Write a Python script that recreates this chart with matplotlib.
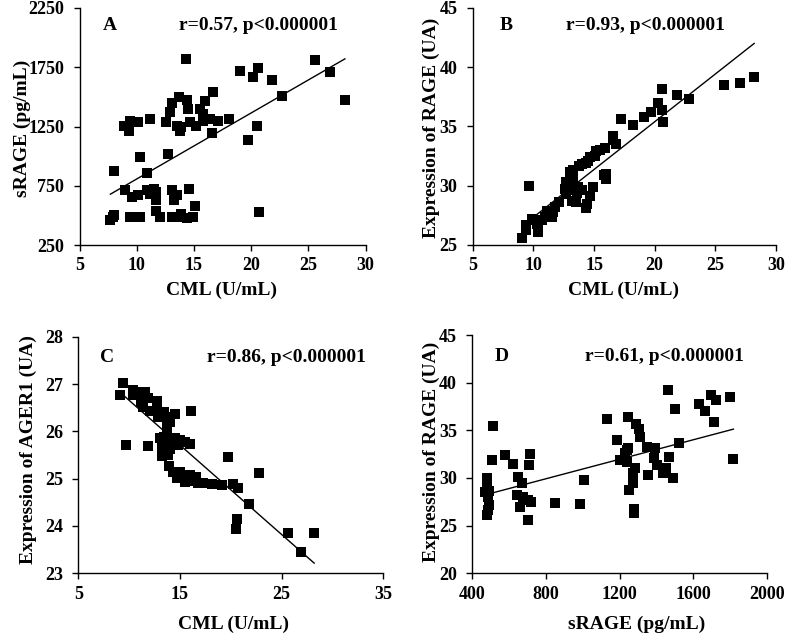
import numpy as np
import matplotlib.pyplot as plt

plt.rcParams['font.family'] = ['Liberation Serif', 'DejaVu Serif']
plt.rcParams['font.weight'] = 'bold'

# Panel A: CML vs sRAGE
a_cml = [14.3, 25.6, 26.9, 28.2, 19.0, 20.6, 20.2, 21.8, 22.7, 16.7, 13.7, 14.4, 13.1, 16.0,
         12.9, 14.5, 15.5, 15.8, 11.2, 10.1, 9.4, 8.9, 12.6, 13.5, 13.9, 14.7, 15.2, 15.8, 16.4,
         17.1, 18.1, 20.5, 9.3, 13.8, 19.7, 16.6, 10.3, 12.7, 8.0, 10.9,
         9.0, 9.6, 10.1, 10.9, 11.2, 11.5, 11.7, 11.7, 13.1, 13.5, 13.3, 14.6, 15.1,
         7.7, 7.9, 8.0, 9.4, 10.3, 11.7, 12.0, 13.1, 13.5, 13.9, 14.4, 14.9, 20.7]
a_srage = [1820, 1810, 1706, 1474, 1720, 1740, 1670, 1642, 1510, 1544, 1502, 1477, 1452, 1468,
           1370, 1399, 1399, 1357, 1315, 1286, 1295, 1258, 1286, 1258, 1244, 1286, 1258, 1300, 1315,
           1300, 1315, 1258, 1216, 1216, 1138, 1194, 992, 1015, 874, 858,
           712, 656, 670, 712, 684, 726, 698, 628, 718, 670, 628, 720, 580,
           460, 488, 502, 488, 488, 538, 488, 490, 488, 510, 480, 488, 525]

# Panel B: CML vs RAGE expression
b_cml = [25.7, 27.0, 28.2, 20.6, 21.8, 22.8, 20.3, 20.6, 19.7, 19.1, 20.7, 17.2, 18.2,
         16.6, 16.6, 16.8, 15.9, 15.5, 15.2, 15.1, 14.7, 14.5, 14.3, 14.0, 13.8, 13.3, 13.0,
         16.0, 15.8, 16.0, 9.6, 12.7, 12.9, 12.6, 13.0, 13.3, 13.7, 14.0, 13.6, 14.9,
         14.7, 14.4, 14.3, 12.7, 13.2, 13.5, 12.1, 11.8, 11.6, 11.5, 11.1, 11.0, 10.7, 10.3,
         10.1, 10.4, 10.4, 9.4, 9.4, 9.1, 9.9]
b_rage = [38.5, 38.7, 39.2, 38.2, 37.7, 37.3, 37.0, 36.4, 36.2, 35.8, 35.4, 35.6, 35.1,
          34.2, 33.9, 33.5, 33.2, 33.0, 32.9, 32.5, 32.4, 32.1, 31.9, 31.8, 31.7, 31.3, 31.2,
          31.0, 30.9, 30.6, 30.0, 30.3, 30.0, 29.7, 29.6, 30.5, 29.9, 29.6, 29.4, 29.9,
          29.1, 28.5, 28.1, 29.3, 28.75, 28.6, 28.6, 28.2, 27.8, 27.4, 27.9, 27.4, 27.1, 26.8,
          27.1, 26.5, 26.1, 26.7, 26.3, 25.6, 27.2]

# Panel C: CML vs AGER1 expression
c_cml = [9.4, 9.1, 10.35, 11.07, 11.56, 10.4, 11.9, 11.2, 11.4, 12.7, 12.7,
         12.05, 12.87, 13.43, 13.85, 14.5, 14.0, 16.08,
         13.7, 13.7, 13.43, 13.03, 14.0, 14.5, 15.0, 15.5, 15.98,
         9.69, 11.9, 13.2, 14.0, 14.8, 13.2, 14.0, 13.2, 13.85, 19.75,
         13.9, 14.3, 15.0, 14.7, 15.3, 16.0, 16.6, 15.5, 16.0, 16.8, 17.3,
         18.2, 19.1, 20.2, 20.7, 22.8, 21.8, 20.6, 20.5, 25.6, 28.2, 26.9]
c_ager1 = [27.03, 26.77, 26.88, 26.84, 26.84, 26.77, 26.70, 26.63, 26.51, 26.65, 26.51,
           26.42, 26.31, 26.40, 26.31, 26.37, 26.20, 26.42,
           26.10, 25.99, 25.89, 25.85, 25.82, 25.85, 25.82, 25.78, 25.73,
           25.71, 25.69, 25.68, 25.69, 25.71, 25.60, 25.62, 25.47, 25.50, 25.45,
           25.27, 25.15, 25.15, 25.01, 25.08, 25.08, 25.04, 24.92, 24.94, 24.90, 24.90,
           24.89, 24.87, 24.88, 24.80, 25.13, 24.46, 24.15, 23.94, 23.86, 23.86, 23.44]

# Panel D: sRAGE vs RAGE expression
d_srage = [514, 1130, 1185, 1245, 1290, 1304, 1313, 1248, 1348, 1393, 1462, 1502, 1525,
           1634, 1665, 1696, 1724, 1714, 1800,
           509, 578, 619, 714, 710, 478, 482, 469, 492, 487, 491, 487, 482,
           650, 668, 641, 677, 704, 719, 659, 704, 849, 985, 1009,
           1230, 1242, 1203, 1239, 1284, 1275, 1272, 1253, 1279, 1279,
           1389, 1402, 1438, 1453, 1471, 1492, 1357, 1819]
d_rage = [35.46, 36.16, 33.99, 36.43, 35.67, 35.11, 34.33, 33.10, 33.25, 33.10, 39.23, 37.24, 33.64,
          37.73, 37.03, 38.71, 38.18, 35.90, 38.53,
          31.89, 32.41, 31.44, 32.49, 31.36, 29.97, 29.61, 28.56, 28.67, 28.04, 27.17, 26.64, 26.12,
          30.07, 29.51, 28.20, 27.97, 27.69, 27.51, 26.99, 25.59, 27.34, 27.24, 29.79,
          32.59, 32.94, 31.89, 31.71, 31.02, 30.49, 29.44, 28.74, 26.72, 26.30,
          32.07, 31.36, 30.56, 31.02, 32.17, 29.97, 30.31, 32.00]

# regression lines (slope, intercept)
fit_a = (55.7, 250.0)
fit_b = (0.806, 19.28)
fit_c = (-0.189, 28.545)
fit_d = (0.005109, 25.83)

W, H = 785, 635
fig = plt.figure(figsize=(W / 100, H / 100), dpi=100)


def px_axes(x0, y0, x1, y1):
    return fig.add_axes([x0 / W, 1 - y1 / H, (x1 - x0) / W, (y1 - y0) / H])


def style(ax, xlim, xticks, ylim, yticks):
    ax.set_xlim(*xlim)
    ax.set_ylim(*ylim)
    ax.set_xticks(xticks)
    ax.set_yticks(yticks)
    for s in ['top', 'right']:
        ax.spines[s].set_visible(False)
    for s in ['left', 'bottom']:
        ax.spines[s].set_linewidth(1.0)
    ax.tick_params(direction='out', length=4, width=1, labelsize=13)
    ax.tick_params(axis='y', pad=7)
    ax.tick_params(axis='x', pad=5)
    for lab in ax.get_xticklabels() + ax.get_yticklabels():
        lab.set_fontweight('bold')


def panel(ax, x, y, fit):
    x = np.asarray(x)
    ax.plot(x, y, 's', color='black', ms=6.5, mew=0, clip_on=False)
    xx = np.array([x.min(), x.max()])
    ax.plot(xx, fit[0] * xx + fit[1], color='black', lw=1.0)


def ftext(x, y, s, **kw):
    fig.text(x / W, 1 - y / H, s, fontweight='bold', **kw)


ax_a = px_axes(79.5, 8, 365.5, 245)
panel(ax_a, a_cml, a_srage, fit_a)
style(ax_a, (5, 30), range(5, 31, 5), (250, 2250), range(250, 2251, 500))

ax_b = px_axes(472.7, 8, 776, 245)
panel(ax_b, b_cml, b_rage, fit_b)
style(ax_b, (5, 30), range(5, 31, 5), (25, 45), range(25, 46, 5))

ax_c = px_axes(78.3, 336.7, 383.3, 573.3)
panel(ax_c, c_cml, c_ager1, fit_c)
style(ax_c, (5, 35), range(5, 36, 10), (23, 28), range(23, 29))

ax_d = px_axes(472.3, 335, 766.7, 573.3)
panel(ax_d, d_srage, d_rage, fit_d)
style(ax_d, (400, 2000), range(400, 2001, 400), (20, 45), range(20, 46, 5))

# panel letters and correlation text
ftext(103, 26, 'A', fontsize=14, ha='left', va='center')
ftext(179, 26, 'r=0.57, p<0.000001', fontsize=14, ha='left', va='center')
ftext(500, 26, 'B', fontsize=14, ha='left', va='center')
ftext(566, 26, 'r=0.93, p<0.000001', fontsize=14, ha='left', va='center')
ftext(100, 358, 'C', fontsize=14, ha='left', va='center')
ftext(207, 358, 'r=0.86, p<0.000001', fontsize=14, ha='left', va='center')
ftext(495, 356, 'D', fontsize=14, ha='left', va='center')
ftext(585, 356, 'r=0.61, p<0.000001', fontsize=14, ha='left', va='center')

# axis labels
ftext(222, 290, 'CML (U/mL)', fontsize=14, ha='center', va='center')
ftext(623, 290, 'CML (U/mL)', fontsize=14, ha='center', va='center')
ftext(233, 624, 'CML (U/mL)', fontsize=14, ha='center', va='center')
ftext(637, 624, 'sRAGE (pg/mL)', fontsize=14, ha='center', va='center')
ftext(22, 128, 'sRAGE (pg/mL)', fontsize=14, ha='center', va='center', rotation=90)
ftext(431, 128, 'Expression of RAGE (UA)', fontsize=14, ha='center', va='center', rotation=90)
ftext(28, 450, 'Expression of AGER1 (UA)', fontsize=14, ha='center', va='center', rotation=90)
ftext(431, 452, 'Expression of RAGE (UA)', fontsize=14, ha='center', va='center', rotation=90)

fig.savefig('out.png', dpi=100)
